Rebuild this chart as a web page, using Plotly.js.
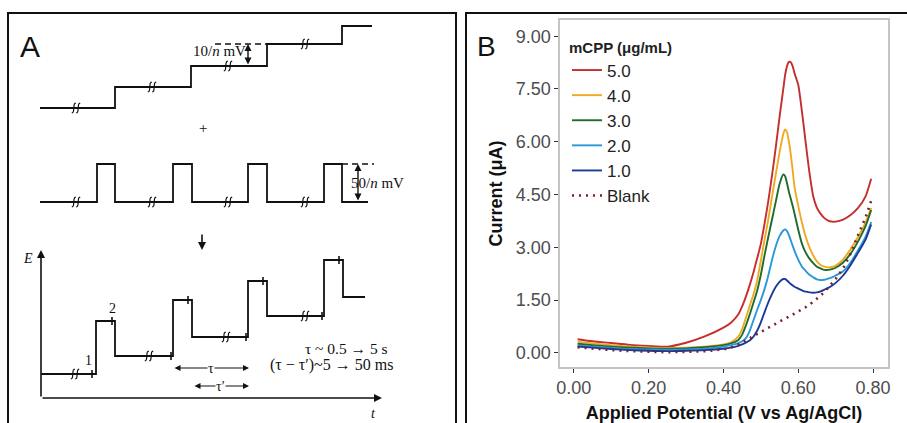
<!DOCTYPE html>
<html>
<head>
<meta charset="utf-8">
<script src="https://cdn.plot.ly/plotly-3.0.1.min.js"></script>
<style>html,body{margin:0;padding:0;background:#fff;}#chart{width:907px;height:423px;}</style>
</head>
<body>
<div id="chart"></div>
<script>
// ---------- Panel B data: differential pulse voltammograms ----------
const potential = [0.01, 0.05, 0.10, 0.15, 0.20, 0.25, 0.30, 0.35, 0.40, 0.42, 0.44, 0.45, 0.46, 0.47, 0.48, 0.49, 0.50, 0.51, 0.52, 0.53, 0.54, 0.55, 0.56, 0.565, 0.57, 0.575, 0.58, 0.585, 0.59, 0.60, 0.61, 0.62, 0.63, 0.64, 0.65, 0.66, 0.67, 0.68, 0.69, 0.70, 0.72, 0.74, 0.76, 0.78, 0.795];
const conc50 = [0.39, 0.33, 0.28, 0.23, 0.20, 0.18, 0.29, 0.47, 0.72, 0.86, 1.10, 1.32, 1.60, 1.92, 2.28, 2.68, 3.10, 3.68, 4.32, 5.05, 5.85, 6.70, 7.50, 7.90, 8.15, 8.27, 8.26, 8.15, 7.95, 7.62, 6.85, 5.97, 5.12, 4.45, 4.12, 3.95, 3.83, 3.76, 3.73, 3.73, 3.79, 3.92, 4.12, 4.45, 4.95];
const conc40 = [0.32, 0.27, 0.22, 0.18, 0.15, 0.14, 0.15, 0.18, 0.24, 0.30, 0.47, 0.68, 1.00, 1.33, 1.65, 2.05, 2.62, 3.22, 3.80, 4.45, 5.08, 5.70, 6.22, 6.35, 6.27, 6.00, 5.65, 5.20, 4.72, 4.18, 3.70, 3.30, 3.00, 2.77, 2.60, 2.50, 2.45, 2.43, 2.44, 2.48, 2.66, 2.95, 3.30, 3.70, 4.12];
const conc30 = [0.26, 0.22, 0.18, 0.15, 0.13, 0.12, 0.13, 0.16, 0.22, 0.27, 0.37, 0.52, 0.78, 1.08, 1.42, 1.76, 2.22, 2.78, 3.30, 3.80, 4.30, 4.80, 5.07, 5.02, 4.82, 4.58, 4.38, 4.18, 3.96, 3.50, 3.10, 2.85, 2.68, 2.55, 2.45, 2.40, 2.36, 2.36, 2.38, 2.42, 2.57, 2.82, 3.17, 3.60, 4.06];
const conc20 = [0.21, 0.18, 0.14, 0.11, 0.10, 0.09, 0.10, 0.12, 0.18, 0.22, 0.28, 0.33, 0.42, 0.62, 0.92, 1.22, 1.50, 1.82, 2.20, 2.65, 3.03, 3.32, 3.48, 3.51, 3.46, 3.35, 3.20, 3.05, 2.90, 2.65, 2.45, 2.33, 2.22, 2.15, 2.09, 2.07, 2.08, 2.11, 2.15, 2.20, 2.32, 2.57, 2.92, 3.30, 3.72];
const conc10 = [0.18, 0.15, 0.11, 0.08, 0.06, 0.05, 0.06, 0.08, 0.12, 0.15, 0.20, 0.24, 0.29, 0.35, 0.46, 0.63, 0.87, 1.16, 1.44, 1.68, 1.88, 2.02, 2.10, 2.10, 2.06, 2.01, 1.96, 1.92, 1.88, 1.83, 1.78, 1.74, 1.72, 1.71, 1.72, 1.75, 1.80, 1.85, 1.91, 1.99, 2.20, 2.50, 2.85, 3.22, 3.65];
const blank  = [0.16, 0.12, 0.08, 0.05, 0.03, 0.02, 0.03, 0.05, 0.10, 0.15, 0.24, 0.30, 0.36, 0.42, 0.48, 0.55, 0.61, 0.67, 0.73, 0.79, 0.84, 0.90, 0.95, 0.97, 1.00, 1.02, 1.05, 1.08, 1.11, 1.16, 1.23, 1.30, 1.37, 1.45, 1.53, 1.63, 1.73, 1.86, 1.98, 2.10, 2.40, 2.82, 3.35, 3.85, 4.32];
const seriesNames = ['5.0', '4.0', '3.0', '2.0', '1.0', 'Blank'];
const seriesColors = ['#C62D2D', '#F0AA22', '#1F6B2B', '#2A98D8', '#1B3A97', '#7C1F2E'];
const xTicks = [0, 0.2, 0.4, 0.6, 0.8];
const yTicks = [0, 1.5, 3, 4.5, 6, 7.5, 9];

// ---------- Panel A schematic (drawing units of the schematic) ----------
const stairX = [40, 115, 115, 191, 191, 267, 267, 342, 342, 372];
const stairY = [108, 108, 87, 87, 66, 66, 44, 44, 26, 26];
const stairBreakX = [76, 152, 228, 305];
const stairBreakY = [108, 87, 66, 44];
const pulseX = [40, 97, 97, 115, 115, 173, 173, 192, 192, 248, 248, 267, 267, 324, 324, 342, 342, 368];
const pulseY = [202, 202, 164, 164, 202, 202, 164, 164, 202, 202, 164, 164, 202, 202, 164, 164, 202, 202];
const pulseBreakX = [76, 152, 228, 305];
const pulseBreakY = [202, 202, 202, 202];
const waveX = [41, 96, 96, 115, 115, 173, 173, 192, 192, 248, 248, 267, 267, 324, 324, 343, 343, 365];
const waveY = [374, 374, 321, 321, 356, 356, 300, 300, 337, 337, 281, 281, 316, 316, 260, 260, 297, 297];
const waveBreakX = [75, 149, 226, 305];
const waveBreakY = [374, 356, 337, 316];
const sampleX = [92, 112, 171, 188, 246, 263, 322, 339];
const sampleY = [374, 321, 356, 300, 337, 281, 316, 260];

const W = 907, H = 423;
const px = v => v / W;
const py = v => 1 - v / H;

const traces = [];
const allY = [conc50, conc40, conc30, conc20, conc10, blank];
allY.forEach((ys, i) => {
  traces.push({
    x: potential, y: ys, type: 'scatter', mode: 'lines', name: seriesNames[i],
    line: i === 5 ? {color: seriesColors[i], width: 2.6, dash: '2px,5px'} : {color: seriesColors[i], width: 1.9, shape: 'spline', smoothing: 0.6},
    xaxis: 'x', yaxis: 'y', hoverinfo: 'skip'
  });
});

const schemLine = {color: '#111', width: 1.8};
function seg(xs, ys) { return {x: xs, y: ys, type: 'scatter', mode: 'lines', line: schemLine, xaxis: 'x2', yaxis: 'y2', showlegend: false, hoverinfo: 'skip'}; }
traces.push(seg(stairX, stairY));
traces.push(seg(pulseX, pulseY));
traces.push(seg(waveX, waveY));
// dashed reference levels
traces.push({x: [215, 267], y: [44, 44], type: 'scatter', mode: 'lines', line: {color: '#111', width: 1.3, dash: '6px,4px'}, xaxis: 'x2', yaxis: 'y2', showlegend: false, hoverinfo: 'skip'});
traces.push({x: [342, 374], y: [164, 164], type: 'scatter', mode: 'lines', line: {color: '#111', width: 1.3, dash: '6px,4px'}, xaxis: 'x2', yaxis: 'y2', showlegend: false, hoverinfo: 'skip'});
// sampling ticks
const tx = [], ty = [];
sampleX.forEach((x, i) => { tx.push(x, x, null); ty.push(sampleY[i] - 4, sampleY[i] + 4, null); });
traces.push({x: tx, y: ty, type: 'scatter', mode: 'lines', line: {color: '#111', width: 1.6}, xaxis: 'x2', yaxis: 'y2', showlegend: false, hoverinfo: 'skip'});
// break marks: a pair of small S strokes at each break position
const bx = stairBreakX.concat(pulseBreakX, waveBreakX);
const by = stairBreakY.concat(pulseBreakY, waveBreakY);
const sx = [], sy = [];
bx.forEach((x, i) => {
  [-2.2, 2.2].forEach(d => {
    sx.push(x + d - 2, x + d - 0.6, x + d, x + d + 0.6, x + d + 2, null);
    sy.push(by[i] + 5, by[i] + 4, by[i], by[i] - 4, by[i] - 5, null);
  });
});
traces.push({x: sx, y: sy, type: 'scatter', mode: 'lines', line: {color: '#111', width: 1.2, shape: 'spline'}, xaxis: 'x2', yaxis: 'y2', showlegend: false, hoverinfo: 'skip'});

const serif = 'Liberation Serif, Times New Roman, serif';
function arrow(x, y, ax, ay, both, w) {
  return {xref: 'x2', yref: 'y2', axref: 'x2', ayref: 'y2', x: x, y: y, ax: ax, ay: ay, text: '', showarrow: true,
    arrowhead: 2, arrowsize: 1, arrowwidth: w || 1.5, arrowcolor: '#111', arrowside: both ? 'end+start' : 'end', standoff: 0, startstandoff: 0};
}
function txt(x, y, t, size, extra) {
  return Object.assign({xref: 'x2', yref: 'y2', x: x, y: y, text: t, showarrow: false, xanchor: 'center', yanchor: 'middle',
    font: {family: serif, size: size || 14, color: '#111'}}, extra || {});
}

const annotations = [
  // panel letters
  {xref: 'paper', yref: 'paper', x: px(30), y: py(46), xanchor: 'center', yanchor: 'middle', text: 'A', showarrow: false, font: {family: 'Liberation Sans, Arial', size: 30, color: '#111'}},
  {xref: 'paper', yref: 'paper', x: px(486), y: py(46), xanchor: 'center', yanchor: 'middle', text: 'B', showarrow: false, font: {family: 'Liberation Sans, Arial', size: 28, color: '#111'}},
  // schematic arrows
  arrow(248, 44, 248, 66, true, 1.4),
  arrow(358, 164, 358, 202, true, 1.4),
  arrow(202, 250, 202, 233, false, 1.6),
  arrow(41, 250, 41, 398, false, 1.6),
  arrow(382, 398, 41, 398, false, 1.6),
  arrow(249, 368, 173, 368, true, 1.2),
  arrow(249, 386, 193, 386, true, 1.2),
  // schematic text
  txt(219, 51, '10/<i>n</i> mV', 15),
  txt(377, 183, '50/<i>n</i> mV', 15),
  txt(203, 128, '+', 15),
  txt(28, 258, '<i>E</i>', 14),
  txt(373, 413, '<i>t</i>', 14),
  txt(88, 360, '1', 14),
  txt(112, 308, '2', 14),
  txt(211, 368, 'τ', 14, {bgcolor: '#fff', borderpad: 0}),
  txt(220, 386, 'τ′', 14, {bgcolor: '#fff', borderpad: 0}),
  txt(346, 348, 'τ ~ 0.5 → 5 s', 15.5),
  txt(331, 365, '(τ − τ′)~5 → 50 ms', 16)
];

const shapes = [
  {type: 'rect', xref: 'paper', yref: 'paper', x0: px(8), x1: px(456), y0: -0.05, y1: py(13), line: {color: '#111', width: 2}},
  {type: 'rect', xref: 'paper', yref: 'paper', x0: px(466), x1: 1.05, y0: -0.05, y1: py(13), line: {color: '#111', width: 2}}
];

const tickFont = {family: 'Liberation Sans, Arial', size: 18, color: '#4D4D4D'};
const layout = {
  width: W, height: H,
  margin: {l: 0, r: 0, t: 0, b: 0},
  paper_bgcolor: '#fff', plot_bgcolor: '#fff',
  showlegend: true,
  xaxis: {domain: [px(560), px(888)], range: [-0.037, 0.84], tickvals: xTicks, tickformat: '.2f',
    ticks: 'outside', ticklen: 4, tickwidth: 1, tickcolor: '#333', tickfont: tickFont,
    showline: true, mirror: true, linecolor: '#C4C4C4', linewidth: 1.6, showgrid: false, zeroline: false,
    title: {text: '<b>Applied Potential (V vs Ag/AgCl)</b>', font: {family: 'Liberation Sans, Arial', size: 18, color: '#111'}, standoff: 10},
    anchor: 'y', fixedrange: true},
  yaxis: {domain: [py(367), py(20)], range: [-0.40, 9.46], tickvals: yTicks, tickformat: '.2f',
    ticks: 'outside', ticklen: 4, tickwidth: 1, tickcolor: '#333', tickfont: tickFont,
    showline: true, mirror: true, linecolor: '#C4C4C4', linewidth: 1.6, showgrid: false, zeroline: false,
    title: {text: '<b>Current (μA)</b>', font: {family: 'Liberation Sans, Arial', size: 18, color: '#111'}, standoff: 8},
    anchor: 'x', fixedrange: true},
  xaxis2: {domain: [0, px(460)], range: [0, 460], visible: false, anchor: 'y2', fixedrange: true},
  yaxis2: {domain: [0, 1], range: [423, 0], visible: false, anchor: 'x2', fixedrange: true},
  legend: {x: px(567), y: py(33), xanchor: 'left', yanchor: 'top', bgcolor: 'rgba(0,0,0,0)', borderwidth: 0,
    font: {family: 'Liberation Sans, Arial', size: 17, color: '#222'},
    title: {text: '<b>mCPP (μg/mL)</b>', font: {family: 'Liberation Sans, Arial', size: 15, color: '#222'}}},
  annotations: annotations,
  shapes: shapes
};

Plotly.newPlot('chart', traces, layout, {displayModeBar: false, staticPlot: true});
</script>
</body>
</html>
